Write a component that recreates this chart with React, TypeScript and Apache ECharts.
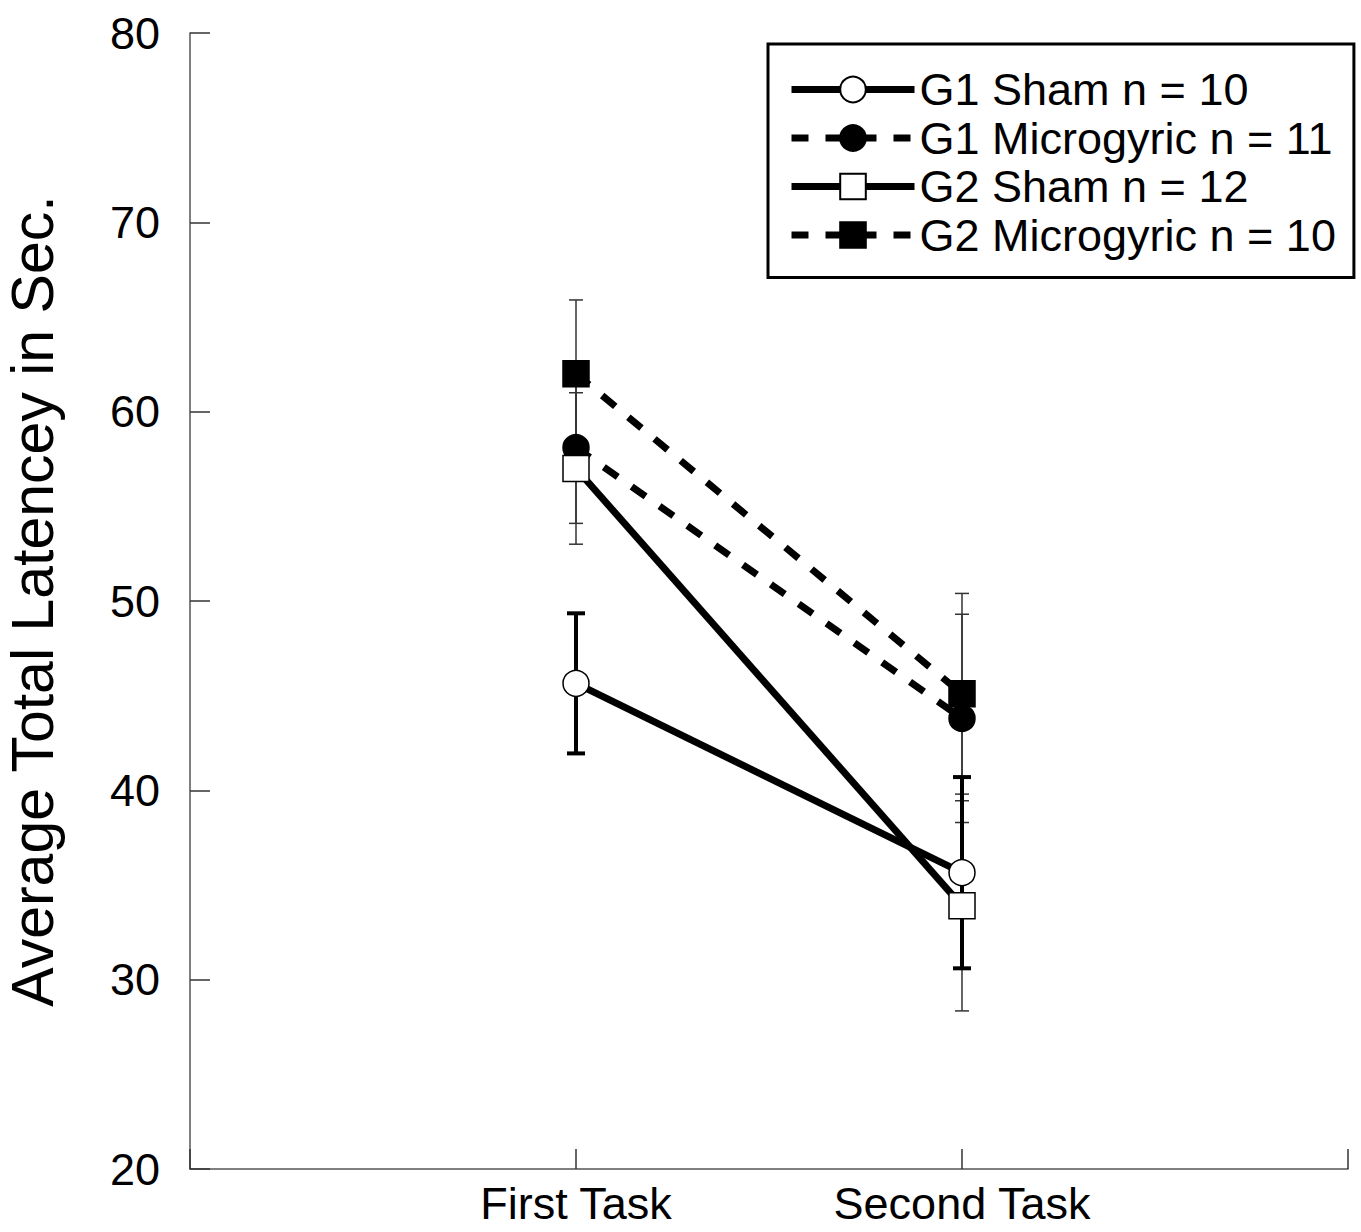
import React, { useEffect, useRef } from "react";
import * as echarts from "echarts";

const categories = ["First Task", "Second Task"];
const xPositions = [1, 2];
const seriesNames = [
  "G1 Sham n = 10",
  "G1 Microgyric n = 11",
  "G2 Sham n = 12",
  "G2 Microgyric n = 10",
];
const g1Sham = [45.65, 35.65];
const g1ShamErr = [3.7, 5.05];
const g1Micro = [58.1, 43.8];
const g1MicroErr = [4.0, 5.5];
const g2Sham = [57.0, 33.9];
const g2ShamErr = [4.0, 5.55];
const g2Micro = [62.0, 45.1];
const g2MicroErr = [3.9, 5.3];
const yTicks = [20, 30, 40, 50, 60, 70, 80];

const FONT = "'Liberation Sans', Arial, sans-serif";

function errData(vals: number[], errs: number[]) {
  return vals.map((v, i) => [xPositions[i], v - errs[i], v + errs[i]]);
}

function errSeries(vals: number[], errs: number[], thick: boolean, z: number) {
  return {
    type: "custom",
    z,
    silent: true,
    data: errData(vals, errs),
    renderItem: (params: any, api: any) => {
      const x = api.value(0);
      const lo = api.coord([x, api.value(1)]);
      const hi = api.coord([x, api.value(2)]);
      const half = thick ? 9 : 7;
      const style = {
        stroke: thick ? "#000" : "#333",
        lineWidth: thick ? 4 : 1.5,
      };
      return {
        type: "group",
        children: [
          { type: "line", shape: { x1: lo[0], y1: lo[1], x2: hi[0], y2: hi[1] }, style },
          { type: "line", shape: { x1: lo[0] - half, y1: lo[1], x2: lo[0] + half, y2: lo[1] }, style },
          { type: "line", shape: { x1: hi[0] - half, y1: hi[1], x2: hi[0] + half, y2: hi[1] }, style },
        ],
      };
    },
  };
}

function lineSeries(name: string, vals: number[], dashed: boolean, symbol: string, filled: boolean, z: number) {
  return {
    name,
    type: "line",
    z,
    data: vals.map((v, i) => [xPositions[i], v]),
    symbol,
    symbolSize: 26,
    showSymbol: true,
    lineStyle: { color: "#000", width: 7, type: dashed ? [17, 17] : "solid" },
    itemStyle: { color: filled ? "#000" : "#fff", borderColor: "#000", borderWidth: 1.5 },
  };
}

export default function App() {
  const ref = useRef<HTMLDivElement>(null);
  useEffect(() => {
    if (!ref.current) return;
    const chart = echarts.init(ref.current, null, { renderer: "svg" });
    chart.setOption({
      animation: false,
      backgroundColor: "#fff",
      grid: {
        left: 190,
        right: 13,
        top: 33,
        bottom: 63,
        containLabel: false,
        outerBoundsMode: "none",
      },
      xAxis: {
        type: "value",
        min: 0,
        max: 3,
        interval: 1,
        axisLine: { show: true, lineStyle: { color: "#555", width: 1.5 } },
        axisTick: { show: true, inside: true, length: 20, lineStyle: { color: "#333", width: 1.5 } },
        splitLine: { show: false },
        axisLabel: {
          fontSize: 45,
          lineHeight: 48,
          fontFamily: FONT,
          color: "#000",
          margin: 10,
          formatter: (v: number) => {
            const i = xPositions.indexOf(v);
            return i >= 0 ? categories[i] : "";
          },
        },
      },
      yAxis: {
        type: "value",
        min: yTicks[0],
        max: yTicks[yTicks.length - 1],
        interval: 10,
        name: "Average Total Latencey in Sec.",
        nameLocation: "middle",
        nameRotate: 90,
        nameGap: 128,
        nameTextStyle: { fontSize: 59, fontFamily: FONT, color: "#000" },
        axisLine: { show: true, lineStyle: { color: "#555", width: 1.5 } },
        axisTick: { show: true, inside: true, length: 20, lineStyle: { color: "#333", width: 1.5 } },
        splitLine: { show: false },
        axisLabel: { fontSize: 45, fontFamily: FONT, color: "#000", margin: 30 },
      },
      legend: {
        data: seriesNames,
        orient: "vertical",
        left: 768,
        top: 44,
        padding: [23, 18, 20, 20],
        itemWidth: 123,
        itemHeight: 32,
        itemGap: 3.5,
        borderColor: "#000",
        borderWidth: 3,
        backgroundColor: "#fff",
        lineStyle: { width: 7 },
        textStyle: { fontSize: 45, fontFamily: FONT, color: "#000", lineHeight: 45 },
      },
      series: [
        errSeries(g1Micro, g1MicroErr, false, 1),
        errSeries(g2Sham, g2ShamErr, false, 1),
        errSeries(g2Micro, g2MicroErr, false, 1),
        errSeries(g1Sham, g1ShamErr, true, 1),
        lineSeries(seriesNames[0], g1Sham, false, "circle", false, 2),
        lineSeries(seriesNames[1], g1Micro, true, "circle", true, 2),
        lineSeries(seriesNames[3], g2Micro, true, "rect", true, 2),
        lineSeries(seriesNames[2], g2Sham, false, "rect", false, 2),
      ],
    });
    return () => chart.dispose();
  }, []);
  return <div ref={ref} style={{ width: 1361, height: 1232, position: "absolute", left: 0, top: 0 }} />;
}
